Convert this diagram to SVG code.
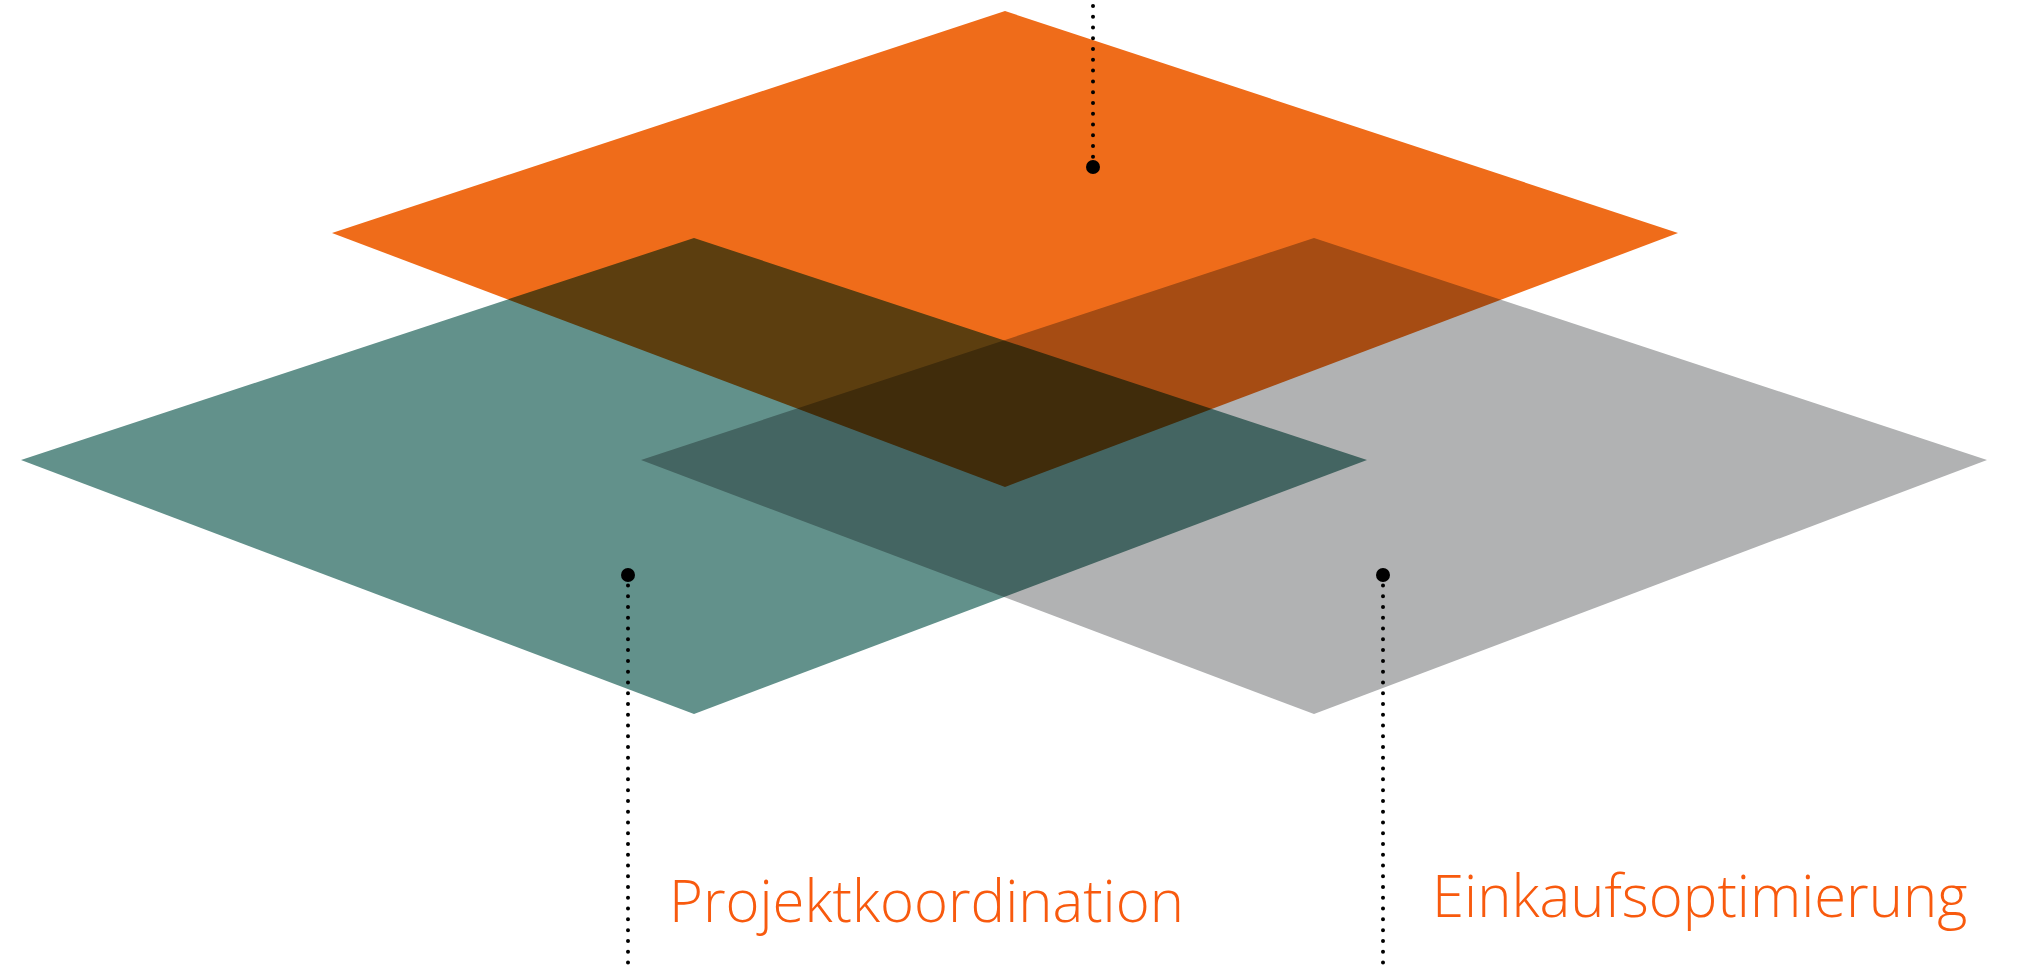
<svg xmlns="http://www.w3.org/2000/svg" width="2022" height="971" viewBox="0 0 2022 971">
<style>
.plane{mix-blend-mode:multiply}
.dotline{fill:none;stroke:#000;stroke-width:4;stroke-linecap:round;stroke-dasharray:0 10.77}
.dot{fill:#000}
.label{font-family:"Open Sans","Liberation Sans",sans-serif;font-weight:300;font-size:58px;fill:#F85A0E}
</style>
<rect width="2022" height="971" fill="#fff"/>
<g style="isolation:isolate">
<g id="plane-top"><polygon class="plane" points="1005,11 1678,233 1005,487 332,233" fill="#EF6C1A"/></g>
<g id="plane-projektkoordination"><polygon class="plane" points="694,238 1367,460 694,714 21,460" fill="#62918B"/></g>
<g id="plane-einkaufsoptimierung"><polygon class="plane" points="1314,238 1987,460 1314,714 641,460" fill="#B1B2B3"/></g>
</g>
<g id="connectors">
<line class="dotline" x1="1093" y1="6" x2="1093" y2="157"/>
<circle class="dot" cx="1093" cy="167" r="7"/>
<line class="dotline" x1="628" y1="585.5" x2="628" y2="971"/>
<circle class="dot" cx="628" cy="575" r="7"/>
<line class="dotline" x1="1383" y1="585.5" x2="1383" y2="971"/>
<circle class="dot" cx="1383" cy="575" r="7"/>
</g>
<g id="label-projektkoordination"><text class="label" x="669" y="922">Projektkoordination</text></g>
<g id="label-einkaufsoptimierung"><text class="label" x="1432" y="917">Einkaufsoptimierung</text></g>
</svg>
